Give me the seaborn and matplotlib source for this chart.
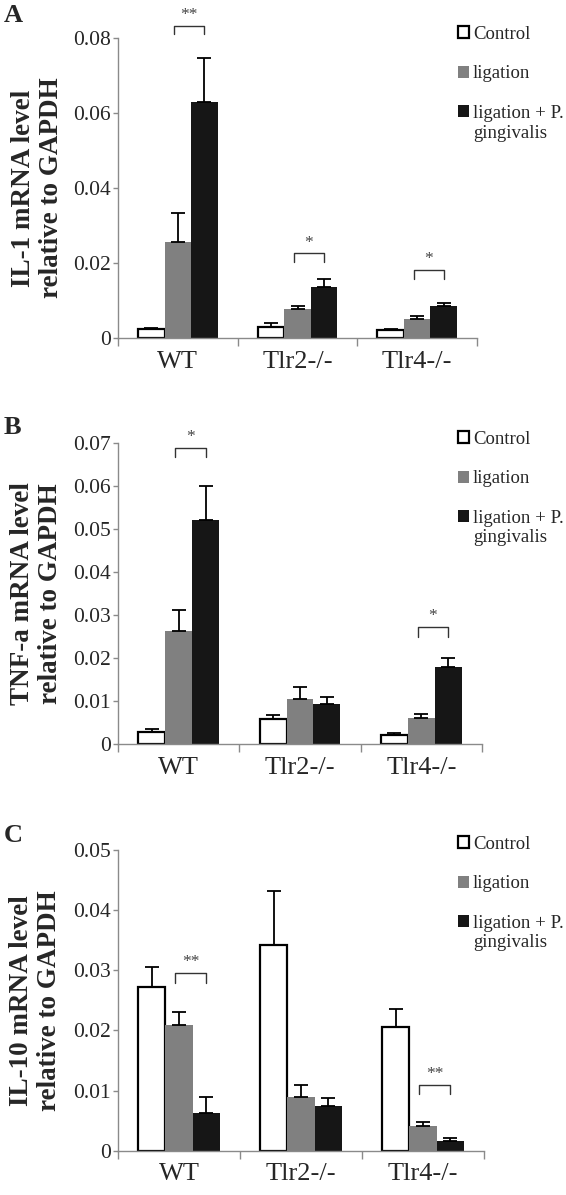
import numpy as np
import pandas as pd
import matplotlib
matplotlib.use("Agg")
import matplotlib.pyplot as plt
from matplotlib.patches import Patch
import seaborn as sns

# ---------------- data ----------------
genotypes = ["WT", "Tlr2-/-", "Tlr4-/-"]
conditions = ["Control", "ligation", "ligation + P. gingivalis"]

# Panel A: IL-1
il1_control = [0.0024, 0.0029, 0.0021]
il1_ligation = [0.0255, 0.0077, 0.0052]
il1_lig_pg = [0.0630, 0.0137, 0.0086]
il1_control_sem = [0.0003, 0.0012, 0.0003]
il1_ligation_sem = [0.0079, 0.0008, 0.0008]
il1_lig_pg_sem = [0.0116, 0.0021, 0.0008]

# Panel B: TNF-a
tnf_control = [0.0027, 0.0059, 0.0022]
tnf_ligation = [0.0264, 0.0104, 0.0060]
tnf_lig_pg = [0.0522, 0.0094, 0.0180]
tnf_control_sem = [0.0007, 0.0008, 0.0003]
tnf_ligation_sem = [0.0048, 0.0028, 0.0011]
tnf_lig_pg_sem = [0.0079, 0.0016, 0.0020]

# Panel C: IL-10
il10_control = [0.0273, 0.0342, 0.0206]
il10_ligation = [0.0209, 0.0089, 0.0041]
il10_lig_pg = [0.0062, 0.0074, 0.0016]
il10_control_sem = [0.0033, 0.0089, 0.0030]
il10_ligation_sem = [0.0021, 0.0021, 0.0006]
il10_lig_pg_sem = [0.0028, 0.0014, 0.0005]

# significance: (genotype index, label)
il1_sig = [(0, "**"), (1, "*"), (2, "*")]
tnf_sig = [(0, "*"), (2, "*")]
il10_sig = [(0, "**"), (2, "**")]

# ---------------- style ----------------
sns.set_theme(style="ticks")
plt.rcParams["font.family"] = ["Liberation Serif", "DejaVu Serif"]

W, H = 566, 1195
fig = plt.figure(figsize=(W / 100, H / 100), dpi=100)

palette = {"Control": "#ffffff", "ligation": "#808080",
           "ligation + P. gingivalis": "#161616"}
axis_grey = "#8a8a8a"

def px_rect(x0, x1, ytop, ybot):
    return [x0 / W, 1 - ybot / H, (x1 - x0) / W, (ybot - ytop) / H]

panels = [
    dict(rect=px_rect(118, 477, 38, 338), means=[il1_control, il1_ligation, il1_lig_pg],
         sems=[il1_control_sem, il1_ligation_sem, il1_lig_pg_sem], ymax=0.08, step=0.02,
         ylabel="IL-1 mRNA level\nrelative to GAPDH", sig=il1_sig,
         brk=[(0.0833, 0.0811, 0.0862), (0.0227, 0.0203, 0.0254), (0.0181, 0.0157, 0.0212)],
         letter="A", letter_y=16, legend_y=32),
    dict(rect=px_rect(118, 482, 443.3, 744), means=[tnf_control, tnf_ligation, tnf_lig_pg],
         sems=[tnf_control_sem, tnf_ligation_sem, tnf_lig_pg_sem], ymax=0.07, step=0.01,
         ylabel="TNF-a mRNA level\nrelative to GAPDH", sig=tnf_sig,
         brk=[(0.0688, 0.0669, 0.0714), (0.0272, 0.0250, 0.0297)],
         letter="B", letter_y=428, legend_y=436.7),
    dict(rect=px_rect(118, 484, 850, 1150.7), means=[il10_control, il10_ligation, il10_lig_pg],
         sems=[il10_control_sem, il10_ligation_sem, il10_lig_pg_sem], ymax=0.05, step=0.01,
         ylabel="IL-10 mRNA level\nrelative to GAPDH", sig=il10_sig,
         brk=[(0.0296, 0.0279, 0.0313), (0.0109, 0.0094, 0.0127)],
         letter="C", letter_y=835, legend_y=841.7),
]

legend_items = []
for p in panels:
    ax = fig.add_axes(p["rect"])
    df = pd.DataFrame({
        "genotype": np.tile(genotypes, len(conditions)),
        "condition": np.repeat(conditions, len(genotypes)),
        "value": np.concatenate(p["means"]),
    })
    sns.barplot(data=df, x="genotype", y="value", hue="condition",
                order=genotypes, hue_order=conditions, palette=palette,
                width=0.667, errorbar=None, saturation=1, linewidth=0,
                legend=False, ax=ax)
    for bar in ax.containers[0]:
        bar.set_edgecolor("black")
        bar.set_linewidth(1.6)
    # error bars (upper only)
    for cont, sem in zip(ax.containers, p["sems"]):
        for bar, s in zip(cont, sem):
            xc = bar.get_x() + bar.get_width() / 2
            ax.errorbar(xc, bar.get_height(), yerr=[[0], [s]], fmt="none",
                        ecolor="black", elinewidth=1.3, capsize=4.8, capthick=1.3,
                        zorder=4)
    # significance brackets
    for (g, lab), (ytop, yleg, ystar) in zip(p["sig"], p["brk"]):
        b1 = ax.containers[1][g]
        b2 = ax.containers[2][g]
        x1 = b1.get_x() + b1.get_width() / 2 - 0.03
        x2 = b2.get_x() + b2.get_width() / 2
        ax.plot([x1, x1, x2, x2], [yleg, ytop, ytop, yleg], color="#333333",
                lw=1.0, clip_on=False, zorder=5)
        ax.text((x1 + x2) / 2, ystar, lab, ha="center", va="center",
                fontsize=12.5, color="#444444", clip_on=False)

    ax.set_xlim(-0.5, 2.5)
    ax.set_ylim(0, p["ymax"])
    ticks = np.round(np.arange(0, p["ymax"] + 1e-9, p["step"]), 4)
    ax.set_yticks(ticks)
    ax.set_yticklabels(["0" if t == 0 else f"{t:.2f}" for t in ticks])
    ax.set_xticks(range(len(genotypes)))
    ax.set_xticklabels(genotypes)
    ax.set_xticks([-0.5, 0.5, 1.5, 2.5], minor=True)
    ax.tick_params(axis="x", which="major", length=0, pad=9, labelsize=19)
    ax.tick_params(axis="x", which="minor", length=6, width=1, color=axis_grey,
                   direction="out")
    ax.tick_params(axis="y", length=3.5, width=1, color=axis_grey, pad=1.5,
                   labelsize=15.5, direction="out")
    ax.set_xlabel("")
    ax.set_ylabel(p["ylabel"], fontsize=19.5, fontweight="bold", linespacing=1.15)
    ax.yaxis.set_label_coords(-0.225, 0.5)
    ax.yaxis.label.set_verticalalignment("center")
    for side in ("top", "right"):
        ax.spines[side].set_visible(False)
    for side in ("left", "bottom"):
        ax.spines[side].set_color(axis_grey)
        ax.spines[side].set_linewidth(1.0)

    fig.text(4 / W, 1 - p["letter_y"] / H, p["letter"], fontsize=19,
             fontweight="bold", ha="left", va="center")

    first, rest = conditions[2].rsplit(" ", 1)
    handles = [Patch(facecolor="white", edgecolor="black", linewidth=1.6),
               Patch(facecolor=palette["ligation"], linewidth=0),
               Patch(facecolor=palette["ligation + P. gingivalis"], linewidth=0)]
    leg = ax.legend(handles, [conditions[0], conditions[1], first],
                    loc="upper left",
                    bbox_to_anchor=(458 / W, 1 - (p["legend_y"] - 6) / H),
                    bbox_transform=fig.transFigure, frameon=False, borderpad=0,
                    borderaxespad=0, handlelength=0.6, handleheight=0.6,
                    handletextpad=0.2, labelspacing=1.2, fontsize=13.5)
    legend_items.append((leg, rest))

fig.canvas.draw()
inv = fig.transFigure.inverted()
for leg, rest in legend_items:
    t = leg.get_texts()[2]
    bb = t.get_window_extent()
    x, y = inv.transform((bb.x0, (bb.y0 + bb.y1) / 2 - 19.5))
    fig.text(x, y, rest, fontsize=13.5, ha="left", va="center")

fig.savefig("out.png", dpi=100)
